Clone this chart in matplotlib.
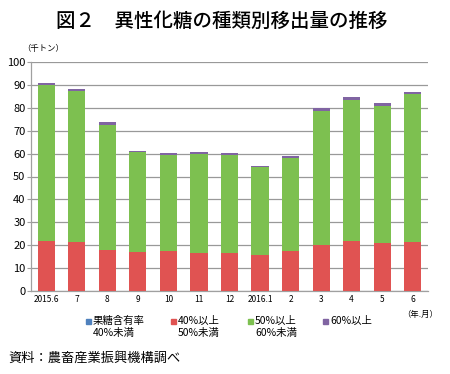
import matplotlib
matplotlib.use('Agg')
import matplotlib.pyplot as plt
from matplotlib.patches import Rectangle
import numpy as np

plt.rcParams['font.family'] = ['Noto Sans CJK JP', 'DejaVu Sans']

months = ['2015.6', '7', '8', '9', '10', '11', '12', '2016.1', '2', '3', '4', '5', '6']
# thousand tonnes, by fructose content
under40 = [0, 0, 0, 0, 0, 0, 0, 0, 0, 0, 0, 0, 0]
from40to50 = [21.9, 21.4, 18.1, 17.1, 17.6, 16.8, 16.6, 15.7, 17.5, 20.3, 21.9, 20.9, 21.4]
from50to60 = [68.2, 66.1, 54.6, 43.5, 41.7, 42.9, 43.0, 38.3, 40.4, 58.5, 61.7, 60.1, 64.6]
over60 = [0.8, 0.7, 1.0, 0.7, 0.8, 1.0, 0.8, 0.6, 1.0, 1.0, 1.0, 1.2, 1.1]

series = [under40, from40to50, from50to60, over60]
labels = ['果糖含有率\n40%未満', '40%以上\n50%未満', '50%以上\n60%未満', '60%以上']
colors = ['#4F81BD', '#E05352', '#7DC050', '#8064A2']

fig = plt.figure(figsize=(4.5, 3.74), dpi=100)
ax = fig.add_axes([31 / 450, 1 - 291 / 374, (428 - 31) / 450, (291 - 62) / 374])

x = np.arange(len(months))
bottom = np.zeros(len(months))
for vals, col in zip(series, colors):
    ax.bar(x, vals, bottom=bottom, width=0.56, color=col, zorder=3)
    bottom += np.array(vals)

ax.set_xlim(-0.5, len(months) - 0.5)
ax.set_ylim(0, 100)
ax.set_yticks(range(0, 101, 10))
ax.set_xticks(x)
ax.set_xticklabels(months, fontsize=6)
ax.tick_params(axis='y', labelsize=8, length=3, width=0.8, color='#A0A0A0', pad=1)
ax.tick_params(axis='x', length=0, pad=3)
ax.yaxis.grid(True, color='#999999', linewidth=0.9, zorder=0)
for s in ['top', 'right']:
    ax.spines[s].set_visible(False)
ax.spines['left'].set_color('#A0A0A0')
ax.spines['bottom'].set_color('#A0A0A0')
ax.spines['left'].set_linewidth(0.9)
ax.spines['bottom'].set_linewidth(0.9)

fig.text(222 / 450, 1 - 21 / 374, '図２　異性化糖の種類別移出量の推移', ha='center', va='center',
         fontsize=14, fontweight='medium')
fig.text(22 / 450, 1 - 49 / 374, '（千トン）', ha='left', va='center', fontsize=6)
fig.text(402 / 450, 1 - 314 / 374, '（年.月）', ha='left', va='center', fontsize=6)
fig.text(8 / 450, 1 - 358 / 374, '資料：農畜産業振興機構調べ', ha='left', va='center', fontsize=9.5)

# legend drawn by hand so the swatch sits on the first line
leg_x = [86, 171, 248, 323]
for lx, lab, col in zip(leg_x, labels, colors):
    fig.patches.append(Rectangle((lx / 450, 1 - 324 / 374), 5 / 450, 5 / 374,
                                 transform=fig.transFigure, color=col))
    fig.text((lx + 7) / 450, 1 - 316 / 374, lab, ha='left', va='top', fontsize=7.5,
             linespacing=1.25)

fig.savefig('out.png', dpi=100)
